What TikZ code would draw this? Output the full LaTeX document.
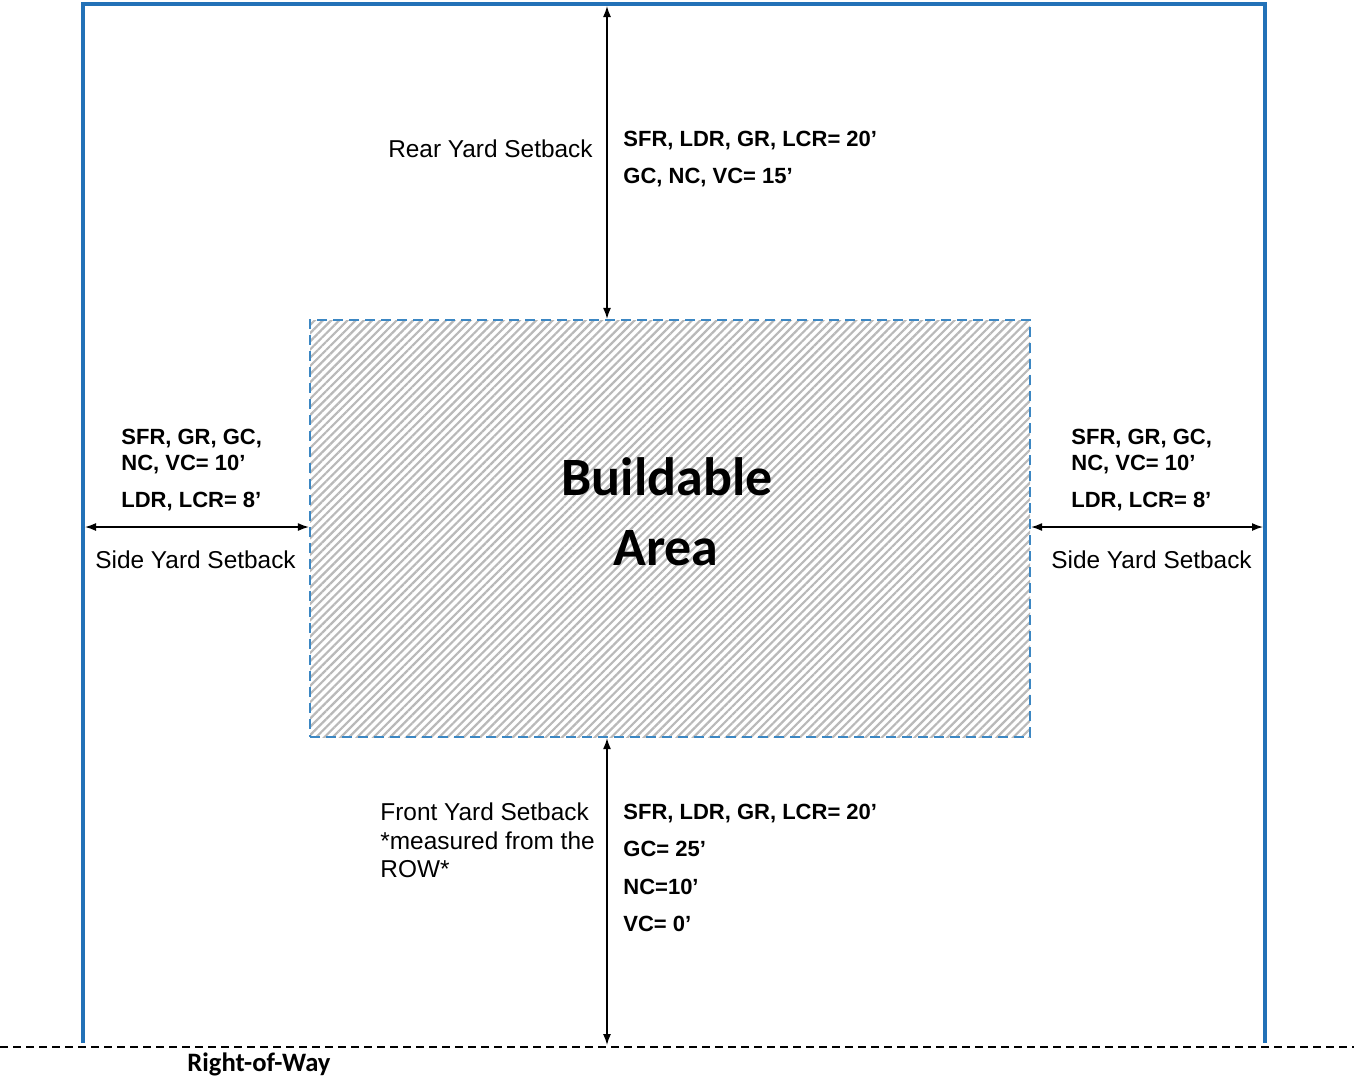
\documentclass[tikz,border=0pt]{standalone}
\usepackage{fontspec}
\setmainfont{Liberation Sans}
\newfontfamily\calibri{Carlito}
\usetikzlibrary{arrows.meta,positioning,patterns.meta}

\definecolor{lotblue}{RGB}{34,113,183}
\definecolor{areablue}{RGB}{60,135,195}

\tikzset{
  lotline/.style={lotblue, line width=2pt},
  dim/.style={<->, line width=0.7pt},
  note/.style={inner sep=0pt, font=\fontsize{12.2}{14.6}\selectfont},
  code/.style={inner sep=0pt, font=\bfseries\fontsize{11}{13}\selectfont},
  title/.style={inner sep=0pt, font=\calibri\bfseries\fontsize{27}{35}\selectfont},
}

\begin{document}
\begin{tikzpicture}[x=0.5pt,y=-0.5pt,>={Latex[length=5.5pt,width=4pt]}]
    \useasboundingbox (0,0) rectangle (1354,1078);

    % Lot lines
    \coordinate (lotNW) at (83,4);
    \coordinate (lotNE) at (1265,4);
    \coordinate (lotSW) at (83,1043);
    \coordinate (lotSE) at (1265,1043);
    \draw[lotline] (lotSW) -- (lotNW) -- (lotNE) -- (lotSE);

    % Right-of-way
    \coordinate (rowW) at (0,1047);
    \coordinate (rowE) at (1354,1047);
    \draw[dash pattern=on 4pt off 2.5pt, line width=0.7pt] (rowW) -- (rowE);
    \node[anchor=base west, inner sep=0pt, font=\calibri\bfseries\fontsize{13.3}{16}\selectfont] (row) at (187,1071) {Right-of-Way};

    % Buildable area
    \node[draw=areablue, dash pattern=on 5pt off 3pt, line width=0.7pt,
          pattern={Lines[angle=45,distance=2.9pt,line width=1.1pt]}, pattern color=gray!55,
          minimum width=360pt, minimum height=208.5pt, inner sep=0pt] (area) at (670,528.5) {};
    \node[title, anchor=base] (buildLbl) at (667,495) {Buildable};
    \node[title, anchor=base] (areaLbl) at (666,565) {Area};

    % Setback arrows
    \coordinate (rearEnd) at (607,6);
    \coordinate (frontEnd) at (607,1045);
    \coordinate (sideLEnd) at (85,527);
    \coordinate (sideREnd) at (1263,527);
    \draw[dim] (rearEnd) -- (rearEnd |- area.north);
    \draw[dim] (frontEnd |- area.south) -- (frontEnd);
    \draw[dim] (sideLEnd) -- (sideLEnd -| area.west);
    \draw[dim] (sideREnd -| area.east) -- (sideREnd);

    % Rear yard
    \node[note, anchor=base east] (rearLbl) at (593,157) {Rear Yard Setback};
    \node[code, anchor=base west] (rearA) at (623,146) {SFR, LDR, GR, LCR= 20’};
    \node[code, anchor=base west] (rearB) at (623,183) {GC, NC, VC= 15’};

    % Side yards
    \foreach \sx/\lx/\nm in {121/95/L, 1071/1051/R} {
        \node[code, anchor=base west] (side\nm A) at (\sx,444) {SFR, GR, GC,};
        \node[code, anchor=base west] (side\nm B) at (\sx,470) {NC, VC= 10’};
        \node[code, anchor=base west] (side\nm C) at (\sx,507) {LDR, LCR= 8’};
        \node[note, anchor=base west] (side\nm Lbl) at (\lx,568) {Side Yard Setback};
    }

    % Front yard
    \node[note, anchor=base west] (frontLbl) at (380,820) {Front Yard Setback};
    \node[note, anchor=base west] (frontNoteA) at (380,849) {*measured from the};
    \node[note, anchor=base west] (frontNoteB) at (380,877) {ROW*};
    \node[code, anchor=base west] (frontA) at (623,819) {SFR, LDR, GR, LCR= 20’};
    \node[code, anchor=base west] (frontB) at (623,856) {GC= 25’};
    \node[code, anchor=base west] (frontC) at (623,894) {NC=10’};
    \node[code, anchor=base west] (frontD) at (623,931) {VC= 0’};
\end{tikzpicture}
\end{document}
